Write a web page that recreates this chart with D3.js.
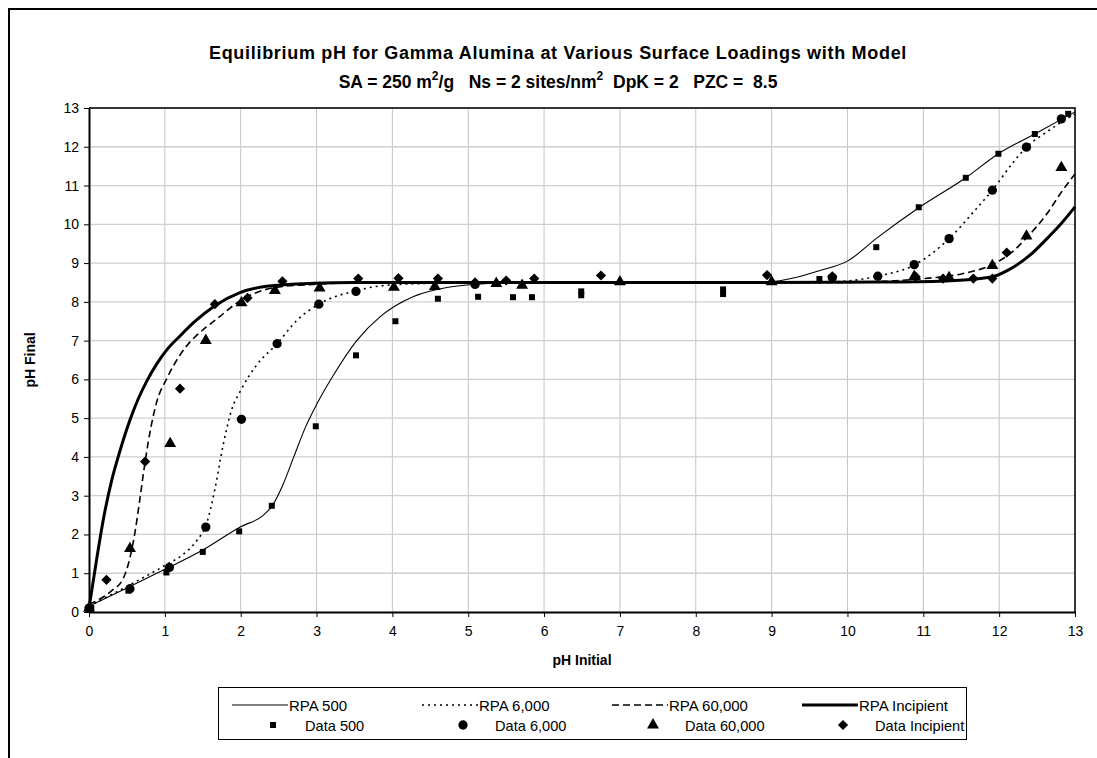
<!DOCTYPE html>
<html><head><meta charset="utf-8">
<script src="https://cdn.jsdelivr.net/npm/d3@7"></script>
<style>
html,body{margin:0;padding:0;background:#fff;}
svg{display:block;font-family:"Liberation Sans",Arial,sans-serif;}
text{white-space:pre;}
</style></head><body>
<svg id="chart" width="1097" height="758"></svg>
<script>
// ---------- DATA ----------
const xTicks = [0,1,2,3,4,5,6,7,8,9,10,11,12,13];
const yTicks = [0,1,2,3,4,5,6,7,8,9,10,11,12,13];

// Model curves [pH initial, pH final]
const rpa500 = [[0,0.15],[0.5,0.62],[1,1.1],[1.5,1.6],[2,2.2],[2.3,2.5],[2.42,2.75],[2.55,3.25],[2.7,4.0],[2.85,4.75],[3.0,5.35],[3.22,6.1],[3.53,7.0],[3.84,7.62],[4.04,7.9],[4.28,8.14],[4.72,8.37],[5.07,8.45],[5.5,8.49],[6,8.5],[7,8.5],[8,8.5],[9,8.52],[9.3,8.62],[9.64,8.81],[10,9.05],[10.39,9.65],[10.95,10.44],[11.56,11.2],[11.99,11.82],[12.47,12.33],[13,12.9]];
const rpa6000 = [[0,0.15],[0.5,0.66],[1,1.2],[1.25,1.5],[1.42,1.84],[1.55,2.28],[1.66,3.17],[1.77,4.32],[1.88,5.21],[2.01,5.75],[2.21,6.37],[2.48,6.92],[2.74,7.52],[3.03,7.94],[3.53,8.29],[3.84,8.41],[4.5,8.48],[5,8.5],[6,8.5],[7,8.5],[8,8.5],[9,8.5],[9.5,8.5],[10,8.54],[10.44,8.68],[10.88,8.95],[11.34,9.63],[11.68,10.36],[11.91,10.88],[12.19,11.61],[12.36,11.99],[12.64,12.4],[13,12.85]];
const rpa60000 = [[0,0.2],[0.3,0.55],[0.45,0.86],[0.54,1.4],[0.61,2.1],[0.67,2.9],[0.74,3.88],[0.82,4.8],[0.89,5.4],[1.02,6.0],[1.2,6.63],[1.54,7.34],[1.66,7.52],[2.01,8.05],[2.45,8.37],[2.96,8.45],[3.5,8.49],[4,8.5],[6,8.5],[8,8.5],[10,8.5],[10.5,8.53],[11,8.6],[11.5,8.72],[11.91,8.96],[12.15,9.25],[12.36,9.65],[12.64,10.3],[12.81,10.8],[13,11.3]];
const rpaIncipient = [[0,0.1],[0.1,1.35],[0.2,2.5],[0.3,3.4],[0.4,4.1],[0.54,4.95],[0.65,5.5],[0.76,5.95],[0.9,6.42],[1.02,6.75],[1.2,7.12],[1.4,7.5],[1.66,7.9],[1.99,8.24],[2.34,8.4],[2.96,8.48],[3.5,8.5],[5,8.5],[7,8.5],[9,8.5],[10.43,8.51],[11.3,8.54],[11.9,8.64],[12.1,8.8],[12.41,9.21],[12.64,9.65],[12.81,10.0],[13,10.45]];

// Experimental data
const data500 = [[0.03,0.1],[0.52,0.55],[1.02,1.02],[1.5,1.55],[1.98,2.08],[2.41,2.74],[2.99,4.79],[3.52,6.62],[4.04,7.5],[4.6,8.08],[5.13,8.13],[5.59,8.12],[5.84,8.12],[6.49,8.17],[6.49,8.27],[8.36,8.2],[8.36,8.32],[9.63,8.59],[10.38,9.41],[10.94,10.44],[11.56,11.2],[11.99,11.82],[12.47,12.33],[12.91,12.85]];
const data6000 = [[0.0,0.1],[0.54,0.6],[1.06,1.15],[1.54,2.19],[2.01,4.97],[2.48,6.92],[3.03,7.94],[3.52,8.27],[5.09,8.45],[9.8,8.62],[10.4,8.66],[10.88,8.96],[11.34,9.63],[11.91,10.88],[12.36,11.99],[12.82,12.72]];
const data60000 = [[0.0,0.12],[0.54,1.66],[1.07,4.37],[1.54,7.03],[2.01,8.0],[2.45,8.32],[3.04,8.38],[4.02,8.4],[4.56,8.42],[5.37,8.5],[5.71,8.45],[7.0,8.54],[9.0,8.54],[10.88,8.68],[11.34,8.65],[11.91,8.96],[12.36,9.72],[12.82,11.49]];
const dataIncipient = [[0.23,0.83],[0.74,3.88],[1.2,5.76],[1.66,7.94],[2.09,8.1],[2.55,8.53],[3.55,8.6],[4.08,8.61],[4.6,8.6],[5.09,8.5],[5.5,8.55],[5.87,8.6],[6.75,8.68],[8.94,8.69],[9.8,8.66],[10.9,8.65],[11.26,8.6],[11.66,8.6],[11.91,8.6],[12.1,9.27]];

const titleLine1 = "Equilibrium pH for Gamma Alumina at Various Surface Loadings with Model";
const xTitle = "pH Initial";
const yTitle = "pH Final";

const lineSeries = [
  {name:"RPA 500", data:rpa500, width:1.1, dash:null},
  {name:"RPA 6,000", data:rpa6000, width:1.6, dash:"2,4"},
  {name:"RPA 60,000", data:rpa60000, width:1.6, dash:"7,4"},
  {name:"RPA Incipient", data:rpaIncipient, width:3, dash:null}
];
const pointSeries = [
  {name:"Data 500", data:data500, type:"square"},
  {name:"Data 6,000", data:data6000, type:"circle"},
  {name:"Data 60,000", data:data60000, type:"triangle"},
  {name:"Data Incipient", data:dataIncipient, type:"diamond"}
];

// ---------- DRAW ----------
const svg = d3.select("#chart");
const L=89, R=1075, T=108, B=612;
const x = d3.scaleLinear().domain([0,13]).range([L,R]);
const y = d3.scaleLinear().domain([0,13]).range([B,T]);

// outer chart frame (extends past the viewport)
svg.append("rect").attr("x",9).attr("y",9).attr("width",1120).attr("height",780)
  .attr("fill","none").attr("stroke","#000").attr("stroke-width",2);

// gridlines
svg.append("g").selectAll("line").data(xTicks.slice(1)).join("line")
  .attr("x1",d=>x(d)).attr("x2",d=>x(d)).attr("y1",T).attr("y2",B)
  .attr("stroke","#c4c4c4").attr("stroke-width",1);
svg.append("g").selectAll("line").data(yTicks.slice(1)).join("line")
  .attr("x1",L).attr("x2",R).attr("y1",d=>y(d)).attr("y2",d=>y(d))
  .attr("stroke","#cfcfcf").attr("stroke-width",1.3);

// plot border top/right
svg.append("path").attr("d",`M${L},${T}H${R}V${B}`).attr("fill","none")
  .attr("stroke","#000").attr("stroke-width",1.5);

// axes
const xAxis = svg.append("g").attr("transform",`translate(0,${B})`)
  .call(d3.axisBottom(x).tickValues(xTicks).tickSize(5).tickPadding(9).tickSizeOuter(0));
const yAxis = svg.append("g").attr("transform",`translate(${L},0)`)
  .call(d3.axisLeft(y).tickValues(yTicks).tickSize(5).tickPadding(5).tickSizeOuter(0));
[xAxis,yAxis].forEach(g=>{
  g.select(".domain").attr("stroke","#000").attr("stroke-width",2);
  g.selectAll(".tick line").attr("stroke","#000").attr("stroke-width",1);
  g.selectAll(".tick text").attr("font-size",14).attr("fill","#000")
    .attr("font-family","'Liberation Sans',Arial,sans-serif");
});

// lines
const lineGen = d3.line().x(d=>x(d[0])).y(d=>y(d[1])).curve(d3.curveMonotoneX);
const plot = svg.append("g");
plot.selectAll("path.model").data(lineSeries).join("path").attr("class","model")
  .attr("d",d=>lineGen(d.data)).attr("fill","none").attr("stroke","#000")
  .attr("stroke-width",d=>d.width).attr("stroke-dasharray",d=>d.dash)
  .attr("stroke-linejoin","round");

// markers
function symPath(type){
  if(type==="square") return d3.symbol(d3.symbolSquare,36)();
  if(type==="circle") return d3.symbol(d3.symbolCircle,68)();
  if(type==="triangle") return d3.symbol(d3.symbolTriangle,62)();
  return d3.symbol(d3.symbolSquare,52)();
}
pointSeries.forEach(s=>{
  plot.append("g").selectAll("path").data(s.data).join("path")
    .attr("d",symPath(s.type))
    .attr("transform",d=>`translate(${x(d[0])},${y(d[1])})`+(s.type==="diamond"?" rotate(45)":(s.type==="triangle"?" translate(0,1)":"")))
    .attr("fill","#000");
});

// titles
svg.append("text").attr("x",558).attr("y",59).attr("text-anchor","middle")
  .attr("font-size",18).attr("letter-spacing",0.7).attr("font-weight","bold").text(titleLine1);
const t2 = svg.append("text").attr("x",558).attr("y",88).attr("text-anchor","middle")
  .attr("font-size",17.5).attr("font-weight","bold");
t2.append("tspan").text("SA = 250 m");
t2.append("tspan").attr("dy",-8).attr("font-size",12).text("2");
t2.append("tspan").attr("dy",8).text("/g   Ns = 2 sites/nm");
t2.append("tspan").attr("dy",-8).attr("font-size",12).text("2");
t2.append("tspan").attr("dy",8).text("  DpK = 2   PZC =  8.5");

svg.append("text").attr("x",(L+R)/2).attr("y",665).attr("text-anchor","middle")
  .attr("font-size",14).attr("font-weight","bold").text(xTitle);
svg.append("text").attr("transform",`translate(35,${(T+B)/2}) rotate(-90)`)
  .attr("text-anchor","middle").attr("font-size",14).attr("font-weight","bold").text(yTitle);

// legend
const lg = svg.append("g");
lg.append("rect").attr("x",218.5).attr("y",687.5).attr("width",748).attr("height",52)
  .attr("fill","#fff").attr("stroke","#000").attr("stroke-width",1);
const colX = [232,422,612,802];
lineSeries.forEach((s,i)=>{
  lg.append("line").attr("x1",colX[i]).attr("x2",colX[i]+56).attr("y1",705).attr("y2",705)
    .attr("stroke","#000").attr("stroke-width",s.width).attr("stroke-dasharray",s.dash);
  lg.append("text").attr("x",colX[i]+57).attr("y",710.5).attr("font-size",15).text(s.name);
});
pointSeries.forEach((s,i)=>{
  lg.append("path").attr("d",symPath(s.type))
    .attr("transform",`translate(${colX[i]+41},725)`+(s.type==="diamond"?" rotate(45)":""))
    .attr("fill","#000");
  lg.append("text").attr("x",colX[i]+73).attr("y",730.5).attr("font-size",14.6).text(s.name);
});
</script></body></html>
